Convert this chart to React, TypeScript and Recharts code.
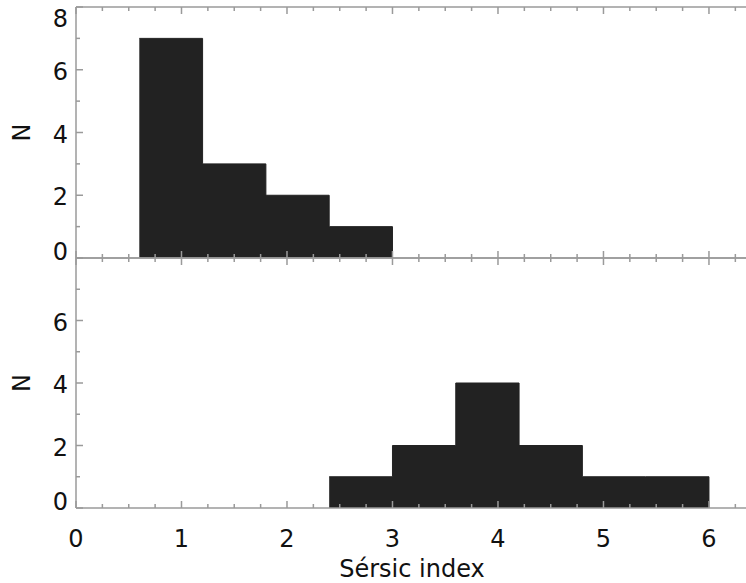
import { AreaChart, Area, XAxis, YAxis } from "recharts";

// shared x ticks (major at integers, minor every 0.25)
const xTicks = [
  0, 0.25, 0.5, 0.75, 1, 1.25, 1.5, 1.75, 2, 2.25, 2.5, 2.75, 3, 3.25, 3.5,
  3.75, 4, 4.25, 4.5, 4.75, 5, 5.25, 5.5, 5.75, 6, 6.25,
];
const yTicks = [0, 1, 2, 3, 4, 5, 6, 7, 8];

// upper panel histogram: bin left edges and counts (last edge closes the step)
const upperEdges = [0.6, 1.2, 1.8, 2.4, 3.0];
const upperCounts = [7, 3, 2, 1, 0];

// lower panel histogram
const lowerEdges = [2.4, 3.0, 3.6, 4.2, 4.8, 5.4, 6.0];
const lowerCounts = [1, 2, 4, 2, 1, 1, 0];

const upperData = upperEdges.map((x, i) => ({ x, n: upperCounts[i] }));
const lowerData = lowerEdges.map((x, i) => ({ x, n: lowerCounts[i] }));

const AXIS = "#9a9a9a";
const INK = "#111";
const FONT = "'DejaVu Sans', 'Liberation Sans', sans-serif";
const X_DOMAIN: [number, number] = [0, 6.37];

function XTick(props: any) {
  const { x, y, payload, dir, labels } = props;
  const v = payload.value;
  const major = Number.isInteger(v);
  const len = major ? 7 : 4;
  return (
    <g>
      <line x1={x} x2={x} y1={y} y2={y + dir * len} stroke={AXIS} strokeWidth={1.5} />
      {labels && major && (
        <text x={x} y={y + 39} textAnchor="middle" fontSize={24} fontFamily={FONT} fill={INK}>
          {v}
        </text>
      )}
    </g>
  );
}

function YTick(props: any) {
  const { x, y, payload, dir, labels, hide } = props;
  const v = payload.value;
  const major = v % 2 === 0;
  const len = major ? 7 : 4;
  // end labels are nudged inside the panel
  const dy = v === 0 ? 2 : v === 8 ? 19.5 : 10;
  return (
    <g>
      <line x1={x} x2={x + dir * len} y1={y} y2={y} stroke={AXIS} strokeWidth={1.5} />
      {labels && major && v !== hide && (
        <text x={x - 8} y={y + dy} textAnchor="end" fontSize={24} fontFamily={FONT} fill={INK}>
          {v}
        </text>
      )}
    </g>
  );
}

function NLabel(props: any) {
  const { viewBox } = props;
  const cx = 22;
  const cy = viewBox.y + viewBox.height / 2;
  return (
    <text
      x={cx}
      y={cy}
      transform={`rotate(-90, ${cx}, ${cy})`}
      textAnchor="middle"
      dominantBaseline="central"
      fontSize={24}
      fontFamily={FONT}
      fill={INK}
    >
      N
    </text>
  );
}

function Panel({
  data,
  height,
  bottomAxisHeight,
  marginBottom,
  xLabels,
  hideY,
}: {
  data: { x: number; n: number }[];
  height: number;
  bottomAxisHeight: number;
  marginBottom: number;
  xLabels: boolean;
  hideY?: number;
}) {
  return (
    <AreaChart
      width={760}
      height={height}
      data={data}
      margin={{ top: 6, right: 11, bottom: marginBottom, left: 0 }}
    >
      <XAxis
        xAxisId="b"
        dataKey="x"
        type="number"
        domain={X_DOMAIN}
        ticks={xTicks}
        interval={0}
        height={bottomAxisHeight}
        tickSize={0}
        tickMargin={0}
        tickLine={false}
        axisLine={{ stroke: AXIS, strokeWidth: 1.5 }}
        tick={(p: any) => <XTick {...p} dir={-1} labels={xLabels} />}
        allowDataOverflow
        label={
          xLabels
            ? {
                value: "Sérsic index",
                position: "insideBottom",
                offset: 6,
                fontSize: 24,
                fontFamily: FONT,
                fill: INK,
              }
            : undefined
        }
      />
      <XAxis
        xAxisId="t"
        orientation="top"
        dataKey="x"
        type="number"
        domain={X_DOMAIN}
        ticks={xTicks}
        interval={0}
        height={1}
        tickSize={0}
        tickMargin={0}
        tickLine={false}
        axisLine={{ stroke: AXIS, strokeWidth: 1.5 }}
        tick={(p: any) => <XTick {...p} dir={1} labels={false} />}
        allowDataOverflow
      />
      <YAxis
        yAxisId="l"
        domain={[0, 8]}
        ticks={yTicks}
        interval={0}
        width={76}
        tickSize={0}
        tickMargin={0}
        tickLine={false}
        axisLine={{ stroke: AXIS, strokeWidth: 1.5 }}
        tick={(p: any) => <YTick {...p} dir={1} labels hide={hideY} />}
        label={(p: any) => <NLabel {...p} />}
      />
      <YAxis
        yAxisId="r"
        orientation="right"
        domain={[0, 8]}
        ticks={yTicks}
        interval={0}
        width={1}
        tickSize={0}
        tickMargin={0}
        tickLine={false}
        axisLine={{ stroke: AXIS, strokeWidth: 1.5 }}
        tick={(p: any) => <YTick {...p} dir={-1} labels={false} />}
      />
      <Area
        xAxisId="b"
        yAxisId="l"
        type="stepAfter"
        dataKey="n"
        stroke="#222"
        strokeWidth={1}
        fill="#222"
        fillOpacity={1}
        isAnimationActive={false}
      />
    </AreaChart>
  );
}

export default function App() {
  return (
    <div
      style={{
        position: "absolute",
        left: 0,
        top: 0,
        width: 746,
        height: 583,
        overflow: "hidden",
        background: "#fff",
      }}
    >
      <div style={{ position: "absolute", left: 0, top: 0 }}>
        <Panel data={upperData} height={280} bottomAxisHeight={1} marginBottom={21} xLabels={false} />
      </div>
      <div style={{ position: "absolute", left: 0, top: 251 }}>
        <Panel
          data={lowerData}
          height={332}
          bottomAxisHeight={75}
          marginBottom={0}
          xLabels
          hideY={8}
        />
      </div>
    </div>
  );
}
